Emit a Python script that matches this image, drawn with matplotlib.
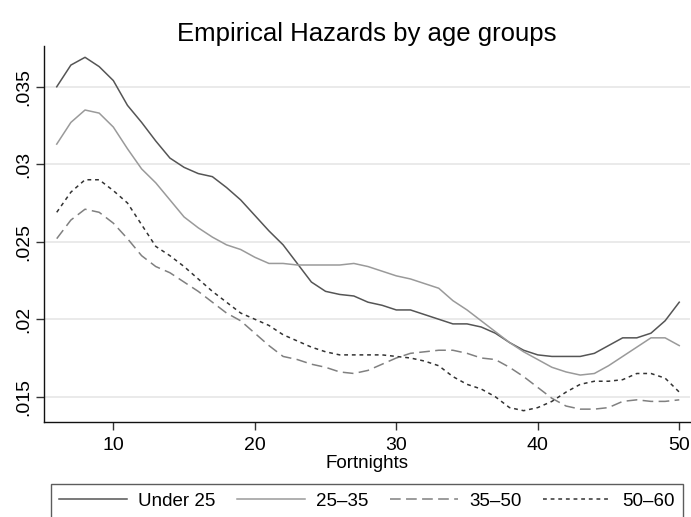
import matplotlib
matplotlib.use("Agg")
import matplotlib.pyplot as plt

plt.rcParams['font.family'] = ['Liberation Sans', 'DejaVu Sans']

fortnights = list(range(6, 51))

under25 = [.0350, .0364, .0369, .0363, .0354, .0338, .0327, .0315, .0304, .0298,
           .0294, .0292, .0285, .0277, .0267, .0257, .0248, .0236, .0224, .0218,
           .0216, .0215, .0211, .0209, .0206, .0206, .0203, .0200, .0197, .0197,
           .0195, .0191, .0185, .0180, .0177, .0176, .0176, .0176, .0178, .0183,
           .0188, .0188, .0191, .0199, .0211]

age25_35 = [.0313, .0327, .0335, .0333, .0324, .0310, .0297, .0288, .0277, .0266,
            .0259, .0253, .0248, .0245, .0240, .0236, .0236, .0235, .0235, .0235,
            .0235, .0236, .0234, .0231, .0228, .0226, .0223, .0220, .0212, .0206,
            .0199, .0192, .0185, .0179, .0174, .0169, .0166, .0164, .0165, .0170,
            .0176, .0182, .0188, .0188, .0183]

age35_50 = [.0252, .0264, .0271, .0269, .0262, .0252, .0241, .0234, .0230, .0224,
            .0218, .0211, .0204, .0199, .0191, .0183, .0176, .0174, .0171, .0169,
            .0166, .0165, .0167, .0171, .0175, .0178, .0179, .0180, .0180, .0178,
            .0175, .0174, .0169, .0163, .0156, .0149, .0144, .0142, .0142, .0143,
            .0147, .0148, .0147, .0147, .0148]

age50_60 = [.0269, .0282, .0290, .0290, .0283, .0275, .0261, .0247, .0241, .0234,
            .0226, .0218, .0211, .0204, .0200, .0196, .0190, .0186, .0182, .0179,
            .0177, .0177, .0177, .0177, .0176, .0175, .0173, .0170, .0163, .0158,
            .0155, .0150, .0143, .0141, .0143, .0147, .0153, .0158, .0160, .0160,
            .0161, .0165, .0165, .0162, .0153]

series_labels = ['Under 25', '25\u201335', '35\u201350', '50\u201360']
xticks = [10, 20, 30, 40, 50]
xtick_labels = ['10', '20', '30', '40', '50']
yticks = [0.015, 0.02, 0.025, 0.03, 0.035]
ytick_labels = ['.015', '.02', '.025', '.03', '.035']

W, H = 691, 517
fig = plt.figure(figsize=(W / 100, H / 100), dpi=100)
ax = fig.add_axes([44 / W, 1 - 422 / H, (690 - 44) / W, (422 - 46) / H])

ax.plot(fortnights, under25, color='#555555', lw=1.1, label=series_labels[0])
ax.plot(fortnights, age25_35, color='#9a9a9a', lw=1.1, label=series_labels[1])
ax.plot(fortnights, age35_50, color='#808080', lw=1.1, dashes=(7, 3.5), label=series_labels[2])
ax.plot(fortnights, age50_60, color='#333333', lw=1.1, dashes=(2.5, 2.5), label=series_labels[3])

ax.set_xlim(5.1, 50.76)
ax.set_ylim(0.01337, 0.03763)
ax.set_xticks(xticks)
ax.set_xticklabels(xtick_labels)
ax.set_yticks(yticks)
ax.set_yticklabels(ytick_labels, rotation=90, va='center')

ax.grid(axis='y', color='#e6e6e6', lw=1.2)
ax.set_axisbelow(True)
for s in ['top', 'right']:
    ax.spines[s].set_visible(False)
for s in ['left', 'bottom']:
    ax.spines[s].set_linewidth(1.0)
    ax.spines[s].set_color('#111111')
ax.tick_params(axis='both', length=5.5, width=1.0, color='#333333', labelsize=14)
ax.tick_params(axis='x', pad=5)
ax.tick_params(axis='y', pad=3)

ax.set_xlabel('Fortnights', fontsize=13.5, labelpad=1)
ax.set_title('Empirical Hazards by age groups', fontsize=18.5, pad=3)

top = 1 - 484 / H
leg = ax.legend(loc='upper left', bbox_to_anchor=(51 / W, top - 0.01, (683 - 51) / W, 0.01),
                bbox_transform=fig.transFigure, mode='expand', ncol=4, fontsize=13.5,
                frameon=True, fancybox=False, handlelength=3.6, handletextpad=0.6,
                borderpad=0.45, borderaxespad=0, columnspacing=1.3)
leg.get_frame().set_edgecolor('#333333')
leg.get_frame().set_linewidth(1.0)

fig.savefig('out.png', dpi=100)
